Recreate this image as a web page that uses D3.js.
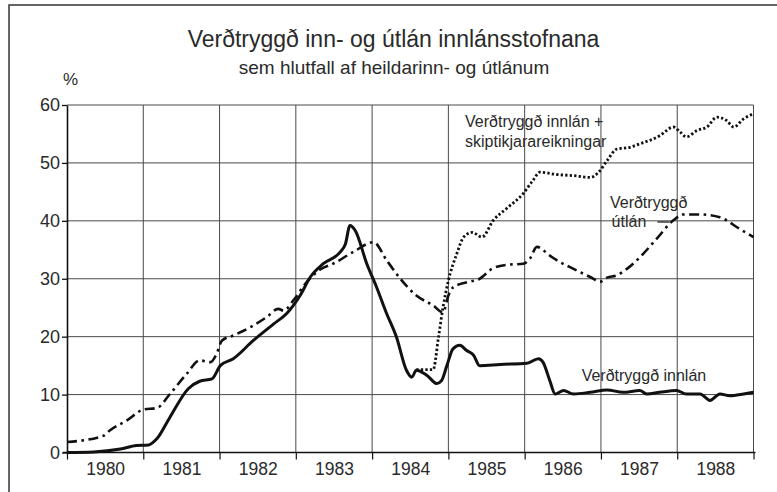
<!DOCTYPE html>
<html>
<head>
<meta charset="utf-8">
<script src="https://cdn.jsdelivr.net/npm/d3@7"></script>
<style>
  body { margin: 0; background: #fff; }
  text { font-family: "Liberation Sans", Arial, Helvetica, sans-serif; fill: #2a2a2a; }
</style>
</head>
<body>
<svg id="chart" width="777" height="492"></svg>
<script>
// Year bands on the x axis and value ticks on the y axis
const years = ["1980", "1981", "1982", "1983", "1984", "1985", "1986", "1987", "1988"];
const yTicks = [0, 10, 20, 30, 40, 50, 60];

// Verðtryggð innlán (indexed deposits), % of total
const innlanT = [1980.00, 1980.35, 1980.70, 1980.91, 1981.07, 1981.18, 1981.35, 1981.59, 1981.74, 1981.90,
  1982.01, 1982.18, 1982.44, 1982.71, 1982.88, 1983.06, 1983.19, 1983.36, 1983.58, 1983.65,
  1983.71, 1983.78, 1983.93, 1984.06, 1984.19, 1984.32, 1984.45, 1984.52, 1984.58, 1984.72,
  1984.85, 1984.91, 1984.98, 1985.06, 1985.15, 1985.24, 1985.33, 1985.41, 1985.68, 1986.03,
  1986.18, 1986.24, 1986.33, 1986.40, 1986.51, 1986.64, 1986.86, 1987.08, 1987.29, 1987.51,
  1987.60, 1987.77, 1987.99, 1988.12, 1988.30, 1988.43, 1988.56, 1988.69, 1988.87, 1989.00];
const innlanV = [0.0, 0.1, 0.6, 1.2, 1.3, 2.4, 6.1, 11.0, 12.3, 12.7,
  15.0, 16.2, 19.3, 22.2, 24.0, 27.2, 30.3, 32.6, 34.6, 36.0,
  39.2, 38.3, 32.6, 28.5, 24.0, 19.9, 14.2, 13.0, 14.2, 13.3,
  11.9, 12.4, 15.0, 17.9, 18.5, 17.6, 16.8, 15.0, 15.2, 15.4,
  16.2, 15.6, 12.4, 10.1, 10.7, 10.1, 10.4, 10.8, 10.4, 10.7,
  10.1, 10.4, 10.7, 10.1, 10.1, 9.0, 10.1, 9.8, 10.1, 10.4];

// Verðtryggð útlán (indexed loans), % of total
const utlanT = [1980.00, 1980.48, 1980.56, 1980.78, 1981.00, 1981.18, 1981.35, 1981.57, 1981.74, 1981.88,
  1981.96, 1982.03, 1982.18, 1982.44, 1982.62, 1982.77, 1982.84, 1982.97, 1983.14, 1983.32,
  1983.49, 1983.75, 1984.02, 1984.19, 1984.37, 1984.58, 1984.80, 1984.93, 1985.00, 1985.06,
  1985.24, 1985.41, 1985.57, 1985.76, 1985.98, 1986.07, 1986.16, 1986.33, 1986.42, 1986.64,
  1986.86, 1986.99, 1987.08, 1987.21, 1987.34, 1987.51, 1987.73, 1987.95, 1988.08, 1988.30,
  1988.56, 1988.82, 1989.00];
const utlanV = [1.8, 2.9, 3.8, 5.5, 7.4, 7.7, 10.1, 13.6, 15.9, 15.6,
  17.0, 19.3, 20.2, 21.9, 23.4, 24.8, 24.5, 26.3, 29.4, 31.6,
  32.6, 34.6, 36.3, 33.2, 30.0, 27.1, 25.4, 24.2, 27.1, 28.5,
  29.4, 30.0, 31.7, 32.4, 32.6, 33.5, 35.5, 34.0, 33.2, 31.7,
  30.3, 29.5, 30.2, 30.6, 31.7, 33.7, 36.9, 40.1, 41.1, 41.1,
  40.6, 38.6, 37.2];

// Verðtryggð innlán + skiptikjarareikningar, % of total
const skiptiT = [1984.58, 1984.80, 1984.87, 1984.93, 1985.00, 1985.11, 1985.20, 1985.31, 1985.44, 1985.59,
  1985.76, 1985.98, 1986.11, 1986.20, 1986.42, 1986.64, 1986.86, 1986.97, 1987.08, 1987.21,
  1987.38, 1987.51, 1987.64, 1987.77, 1987.95, 1988.04, 1988.12, 1988.26, 1988.39, 1988.52,
  1988.65, 1988.74, 1988.87, 1989.00];
const skiptiV = [14.3, 14.3, 19.9, 25.1, 29.7, 34.3, 37.2, 38.0, 37.2, 40.1,
  42.1, 44.7, 47.0, 48.4, 48.0, 47.8, 47.5, 48.4, 50.4, 52.4,
  52.7, 53.3, 53.9, 54.7, 56.2, 55.3, 54.5, 55.6, 56.2, 57.9,
  57.3, 56.2, 57.6, 58.5];

const svg = d3.select("#chart");

const x = d3.scaleLinear().domain([1980, 1989]).range([67, 753.5]);
const y = d3.scaleLinear().domain([0, 60]).range([452.5, 105]);

// Outer frame (top and left edges of the page box)
svg.append("path")
  .attr("d", "M9,492V5H777")
  .attr("fill", "none").attr("stroke", "#333").attr("stroke-width", 1.5);

// Titles
svg.append("text").attr("x", 393.5).attr("y", 46.7).attr("text-anchor", "middle")
  .style("font-size", "23px").text("Verðtryggð inn- og útlán innlánsstofnana");
svg.append("text").attr("x", 394).attr("y", 74.3).attr("text-anchor", "middle")
  .style("font-size", "19px").text("sem hlutfall af heildarinn- og útlánum");
svg.append("text").attr("x", x(1980) + 3.5).attr("y", y(60) - 20).attr("text-anchor", "middle")
  .style("font-size", "17px").text("%");

// Horizontal grid
svg.append("g").selectAll("line").data(yTicks.filter(d => d > 0)).join("line")
  .attr("x1", x(1980)).attr("x2", x(1989))
  .attr("y1", d => y(d)).attr("y2", d => y(d))
  .attr("stroke", "#4a4a4a").attr("stroke-width", 1);

// Vertical grid at year boundaries
const bounds = d3.range(1981, 1990);
svg.append("g").selectAll("line").data(bounds).join("line")
  .attr("x1", d => x(d)).attr("x2", d => x(d))
  .attr("y1", y(60)).attr("y2", y(0))
  .attr("stroke", "#4a4a4a").attr("stroke-width", 1);

// Y axis
const yAxis = svg.append("g").attr("transform", `translate(${x(1980)},0)`)
  .call(d3.axisLeft(y).tickValues(yTicks).tickSize(5).tickSizeOuter(0).tickPadding(2));
yAxis.select(".domain").attr("stroke", "#111").attr("stroke-width", 1.6);
yAxis.selectAll(".tick line").attr("stroke", "#111").attr("stroke-width", 1.3);
yAxis.selectAll("text").style("font-size", "18px").attr("fill", "#2a2a2a");

// X axis: ticks at year boundaries, labels centred in each year
const xAxis = svg.append("g").attr("transform", `translate(0,${y(0)})`)
  .call(d3.axisBottom(x).tickValues(d3.range(1980, 1990)).tickSize(7).tickSizeOuter(0).tickFormat(""));
xAxis.select(".domain").remove();
xAxis.selectAll(".tick line").attr("stroke", "#111").attr("stroke-width", 1.2);
svg.append("line")
  .attr("x1", x(1980) - 4).attr("x2", x(1989) + 2)
  .attr("y1", y(0)).attr("y2", y(0))
  .attr("stroke", "#111").attr("stroke-width", 1.6);

const xLabels = svg.append("g").attr("transform", `translate(0,${y(0)})`)
  .call(d3.axisBottom(x).tickValues(years.map(d => +d + 0.5)).tickSize(0).tickPadding(10)
    .tickFormat(d => String(Math.floor(d))));
xLabels.select(".domain").remove();
xLabels.selectAll("text").style("font-size", "17.5px").attr("fill", "#2a2a2a");

// Series lines
const line = d3.line().x(d => x(d[0])).y(d => y(d[1])).curve(d3.curveMonotoneX);
const zip = (t, v) => t.map((d, i) => [d, v[i]]);

svg.append("path").datum(zip(utlanT, utlanV))
  .attr("d", line).attr("fill", "none").attr("stroke", "#111")
  .attr("stroke-width", 2.6).attr("stroke-dasharray", "10,4.5,2.6,4.5");

svg.append("path").datum(zip(skiptiT, skiptiV))
  .attr("d", line).attr("fill", "none").attr("stroke", "#111")
  .attr("stroke-width", 2.8).attr("stroke-dasharray", "2.3,2.2");

svg.append("path").datum(zip(innlanT, innlanV))
  .attr("d", line).attr("fill", "none").attr("stroke", "#111")
  .attr("stroke-width", 3).attr("stroke-linejoin", "round");

// Series labels
const lab = svg.append("g").style("font-size", "16px");
lab.append("text").attr("x", x(1985.218)).attr("y", y(56.25)).text("Verðtryggð innlán +");
lab.append("text").attr("x", x(1985.218)).attr("y", y(56.25) + 20).text("skiptikjarareikningar");
lab.append("text").attr("x", x(1987.118)).attr("y", y(42.3)).text("Verðtryggð");
lab.append("text").attr("x", x(1987.140)).attr("y", y(42.3) + 19).text("útlán");
lab.append("line")
  .attr("x1", x(1987.74)).attr("x2", x(1987.90))
  .attr("y1", y(39.8)).attr("y2", y(39.8))
  .attr("stroke", "#222").attr("stroke-width", 1.3);
lab.append("text").attr("x", x(1986.747)).attr("y", y(12.35)).text("Verðtryggð innlán");
</script>
</body>
</html>
